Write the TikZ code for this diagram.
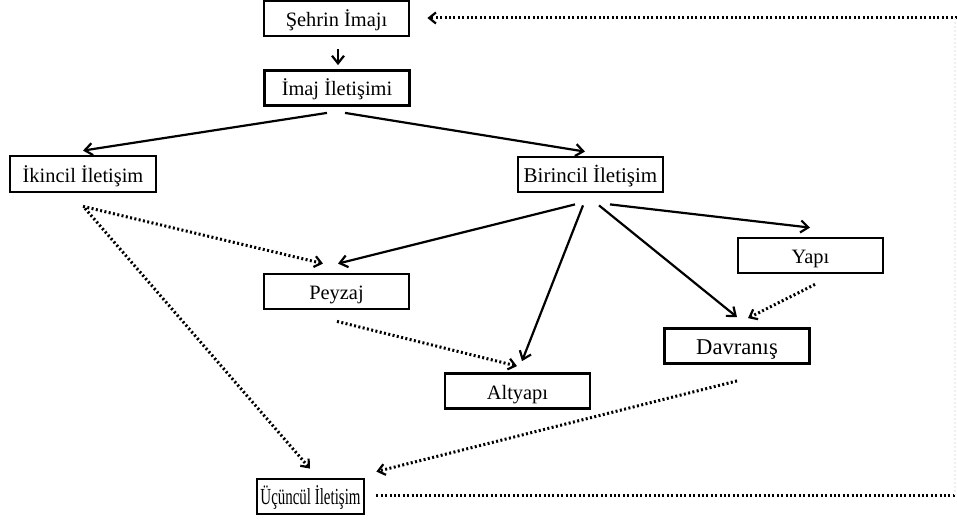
\documentclass[tikz,border=0pt]{standalone}
\usepackage{fontspec}
\setmainfont{Liberation Serif}
\usepackage{graphicx}
\usetikzlibrary{arrows.meta,calc}
\tikzset{
  box/.style={draw, line width=1.4pt, minimum width=72.5pt, minimum height=17.5pt,
              inner sep=0pt, text height=9pt, text depth=1pt,
              font=\fontsize{10.2}{12}\selectfont},
  solidarr/.style={line width=1.1pt, -{Straight Barb[length=3.8pt,width=6pt,line width=1.1pt]}},
  dotarr/.style={line width=1.5pt, dash pattern=on 1pt off 1.2pt,
                 -{Straight Barb[length=3.4pt,width=5.5pt,line width=1.1pt]}},
  dotline/.style={line width=1.5pt, dash pattern=on 1pt off 1.2pt}
}
\begin{document}
\begin{tikzpicture}[x=0.5pt,y=-0.5pt]
\useasboundingbox (0,0) rectangle (957,519);

% boxes
\node[box] (sehir)    at (336.5,18.5) {Şehrin İmajı};
\node[box] (iletisim) at (337,88)     {İmaj İletişimi};
\node[box, minimum width=73pt, minimum height=18pt] (ikincil) at (83,174) {İkincil İletişim};
\node[box, font=\fontsize{10.5}{12}\selectfont] (birincil) at (590.5,174.5) {Birincil İletişim};
\node[box] (yapi)     at (810.5,255.5) {Yapı};
\node[box] (peyzaj)   at (336.5,291.5) {Peyzaj};
\node[box] (altyapi)  at (517.5,391)   {Altyapı};
\node[box, font=\fontsize{11.3}{13}\selectfont] (davranis) at (737,346) {Davranış};
\node[box, minimum width=53.5pt, font=\fontsize{11.5}{14}\selectfont] (ucuncul) at (310.5,496.5)
  {\scalebox{0.65}[1]{Üçüncül İletişim}};

% free ends of the feedback loop
\coordinate (topright) at (957,18);
\coordinate (botright) at (957,495);

% solid connectors
\draw[solidarr] ($(sehir.south)+(1.5,12)$) -- ($(iletisim.north)+(1,-4)$);
\draw[solidarr] ($(iletisim.south)+(-10,6)$) -- ($(ikincil.north)+(0,-4)$);
\draw[solidarr] ($(iletisim.south)+(8,6)$) -- ($(birincil.north)+(-5.5,-4)$);
\draw[solidarr] ($(birincil.south)+(-15.5,11)$) -- ($(peyzaj.north)+(1.5,-9)$);
\draw[solidarr] ($(birincil.south)+(-7.5,12)$) -- ($(altyapi.north)+(4.5,-11)$);
\draw[solidarr] ($(birincil.south)+(8.5,12)$) -- ($(davranis.north)+(0,-10)$);
\draw[solidarr] ($(birincil.south)+(19.5,11)$) -- ($(yapi.north)+(-0.5,-9)$);

% dotted connectors
\draw[dotarr] ($(ikincil.south)+(0,13)$) -- ($(peyzaj.north)+(-13.5,-9)$);
\draw[dotarr] ($(ikincil.south)+(2,15)$) -- ($(ucuncul.north)+(-0.5,-9)$);
\draw[dotarr] ($(peyzaj.south)+(0.5,11)$) -- ($(altyapi.north)+(-0.5,-6)$);
\draw[dotarr] ($(yapi.south)+(4.5,10)$) -- ($(davranis.north)+(11,-9)$);
\draw[dotarr] ($(davranis.south)+(0,16)$) -- ($(ucuncul.north east)+(11,-6)$);

% feedback loop back to the top
\draw[dotline] ($(ucuncul.east)+(11,-1.5)$) -- (botright);
\draw[dotarr] (topright) -- ($(sehir.east)+(17,-0.5)$);
\draw[line width=0.6pt, black!6, dash pattern=on 0.8pt off 1.2pt] (955,18) -- (955,495);
\end{tikzpicture}
\end{document}
